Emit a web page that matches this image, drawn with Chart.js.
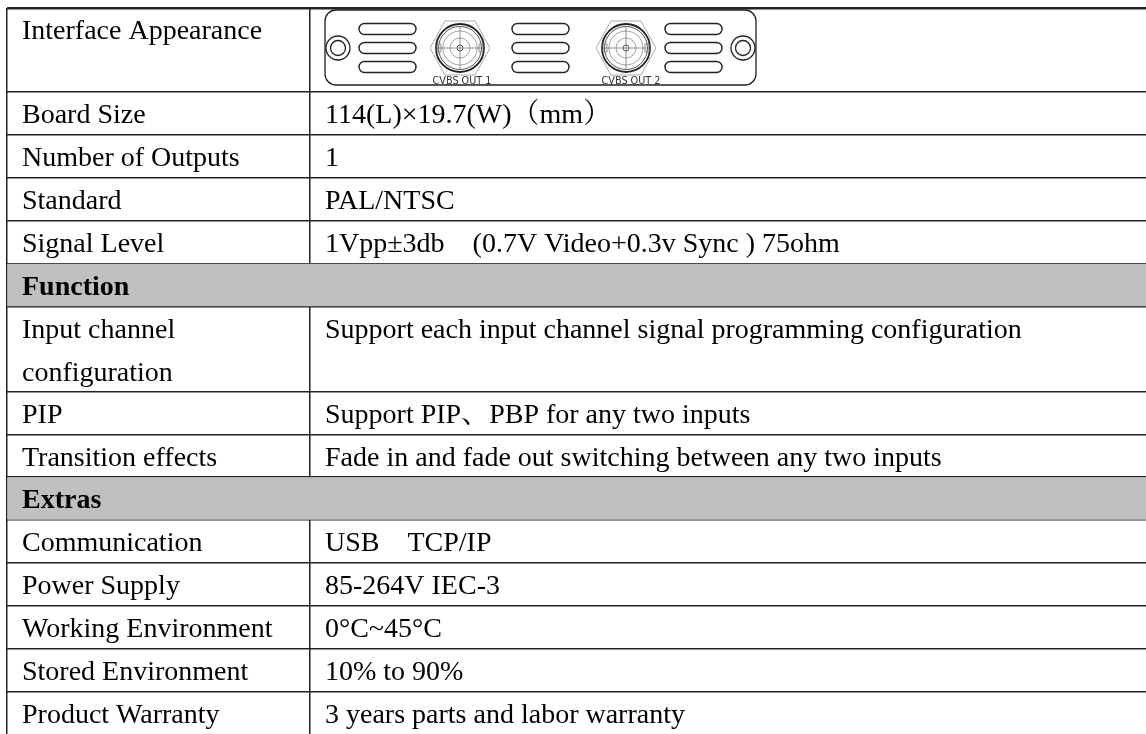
<!DOCTYPE html>
<html><head><meta charset="utf-8">
<style>html,body{margin:0;padding:0;background:#fff}canvas{display:block;filter:blur(0.35px)}</style>
<script src="https://cdn.jsdelivr.net/npm/chart.js@4"></script>
</head><body><canvas id="c" width="1146" height="734"></canvas>
<script>
const rowEdges=[8,92,135,178,221,263.5,306.5,392,434.5,477,520,563,606,649,692,734];
const rowLabels=["Interface Appearance","Board Size","Number of Outputs","Standard","Signal Level","Function",["Input channel","configuration"],"PIP","Transition effects","Extras","Communication","Power Supply","Working Environment","Stored Environment","Product Warranty"];
const rowValues=["","114(L)×19.7(W)（mm）","1","PAL/NTSC","1Vpp±3db\u2003(0.7V Video+0.3v Sync ) 75ohm","","Support each input channel signal programming configuration","Support PIP、PBP for any two inputs","Fade in and fade out switching between any two inputs","","USB\u2003TCP/IP","85-264V IEC-3","0°C~45°C","10% to 90%","3 years parts and labor warranty"];
const sectionRows=[5,9];
const columnEdges=[7,309.5];
const SERIF="'Liberation Serif','Noto Serif CJK SC','Noto Sans CJK SC',serif";
const tableText={id:'tableText',afterDatasetsDraw(ch){
  const c=ch.ctx,x=ch.scales.x,y=ch.scales.y;
  c.save();c.fillStyle='#000';c.textBaseline='alphabetic';c.textAlign='left';
  rowLabels.forEach((t,i)=>{
    const top=y.getPixelForValue(rowEdges[i]);
    c.font=(sectionRows.includes(i)?'bold ':'')+'28px '+SERIF;
    [].concat(t).forEach((s,k)=>c.fillText(s,x.getPixelForValue(22),top+31+k*43));
    if(rowValues[i]){c.font='28px '+SERIF;c.fillText(rowValues[i],x.getPixelForValue(325),top+31);}
  });
  drawPanel(c,x,y);c.restore();
}};
function drawPanel(c,x,y){
  const px=v=>x.getPixelForValue(v),py=v=>y.getPixelForValue(v);
  const ring=(a,b,r,w,col)=>{c.beginPath();c.arc(px(a),py(b),r,0,7);c.lineWidth=w;c.strokeStyle=col;c.stroke();};
  c.strokeStyle='#222';c.lineWidth=1.3;
  c.beginPath();c.roundRect(px(325),py(10),431,75,11);c.stroke();
  [338,743].forEach(a=>{ring(a,48,12,1.3,'#222');ring(a,48,7.5,1.3,'#222');});
  [359,512,665].forEach(a=>[29,48,67].forEach(b=>{
    c.beginPath();c.roundRect(px(a),py(b-5.5),57,11,5.5);c.lineWidth=1.4;c.strokeStyle='#222';c.stroke();}));
  [460,626].forEach(a=>{
    c.beginPath();c.strokeStyle='#aaa';c.lineWidth=1;
    [[-30,0],[-15,-27],[15,-27],[30,0],[15,27],[-15,27]].forEach((p,i)=>{i?c.lineTo(px(a+p[0]),py(48+p[1])):c.moveTo(px(a+p[0]),py(48+p[1]));});
    c.closePath();c.stroke();
    ring(a,48,24,1.8,'#222');ring(a,48,21.5,1,'#555');ring(a,48,17,.8,'#888');ring(a,48,10,.8,'#888');ring(a,48,3,1,'#555');
    c.beginPath();c.strokeStyle='#777';c.lineWidth=.8;
    c.moveTo(px(a-23),py(48));c.lineTo(px(a+23),py(48));c.moveTo(px(a),py(26));c.lineTo(px(a),py(70));
    c.rect(px(a-23),py(44),4,8);c.rect(px(a+19),py(44),4,8);c.stroke();
  });
  c.fillStyle='#333';c.font="9.7px 'DejaVu Sans',sans-serif";c.textAlign='center';
  c.fillText('CVBS OUT 1',px(462),py(84));c.fillText('CVBS OUT 2',px(631),py(84));
}
new Chart(document.getElementById('c'),{
  type:'bar',
  data:{datasets:[{label:'Section rows',
    data:sectionRows.map(i=>({y:(rowEdges[i]+rowEdges[i+1])/2,x:[7.8,1146]})),
    backgroundColor:'#c0c0c0',barThickness:42,borderWidth:0}]},
  options:{indexAxis:'y',responsive:false,animation:false,
    layout:{padding:{left:7,top:8,right:0,bottom:0}},
    plugins:{legend:{display:false},tooltip:{enabled:false}},
    scales:{
      x:{type:'linear',position:'bottom',min:7,max:1146,offset:false,
        afterBuildTicks:s=>{s.ticks=columnEdges.map(v=>({value:v}));},
        grid:{color:'#222',lineWidth:1.5,drawTicks:false,offset:false},border:{display:false},ticks:{display:false}},
      y:{type:'linear',position:'left',reverse:true,min:8,max:734,offset:false,
        afterBuildTicks:s=>{s.ticks=rowEdges.slice(0,-1).map(v=>({value:v}));},
        grid:{color:'#222',lineWidth:c=>c.index===0?2.5:1.5,drawTicks:false,offset:false},border:{display:false},ticks:{display:false}}
    }},
  plugins:[tableText]
});
</script></body></html>
